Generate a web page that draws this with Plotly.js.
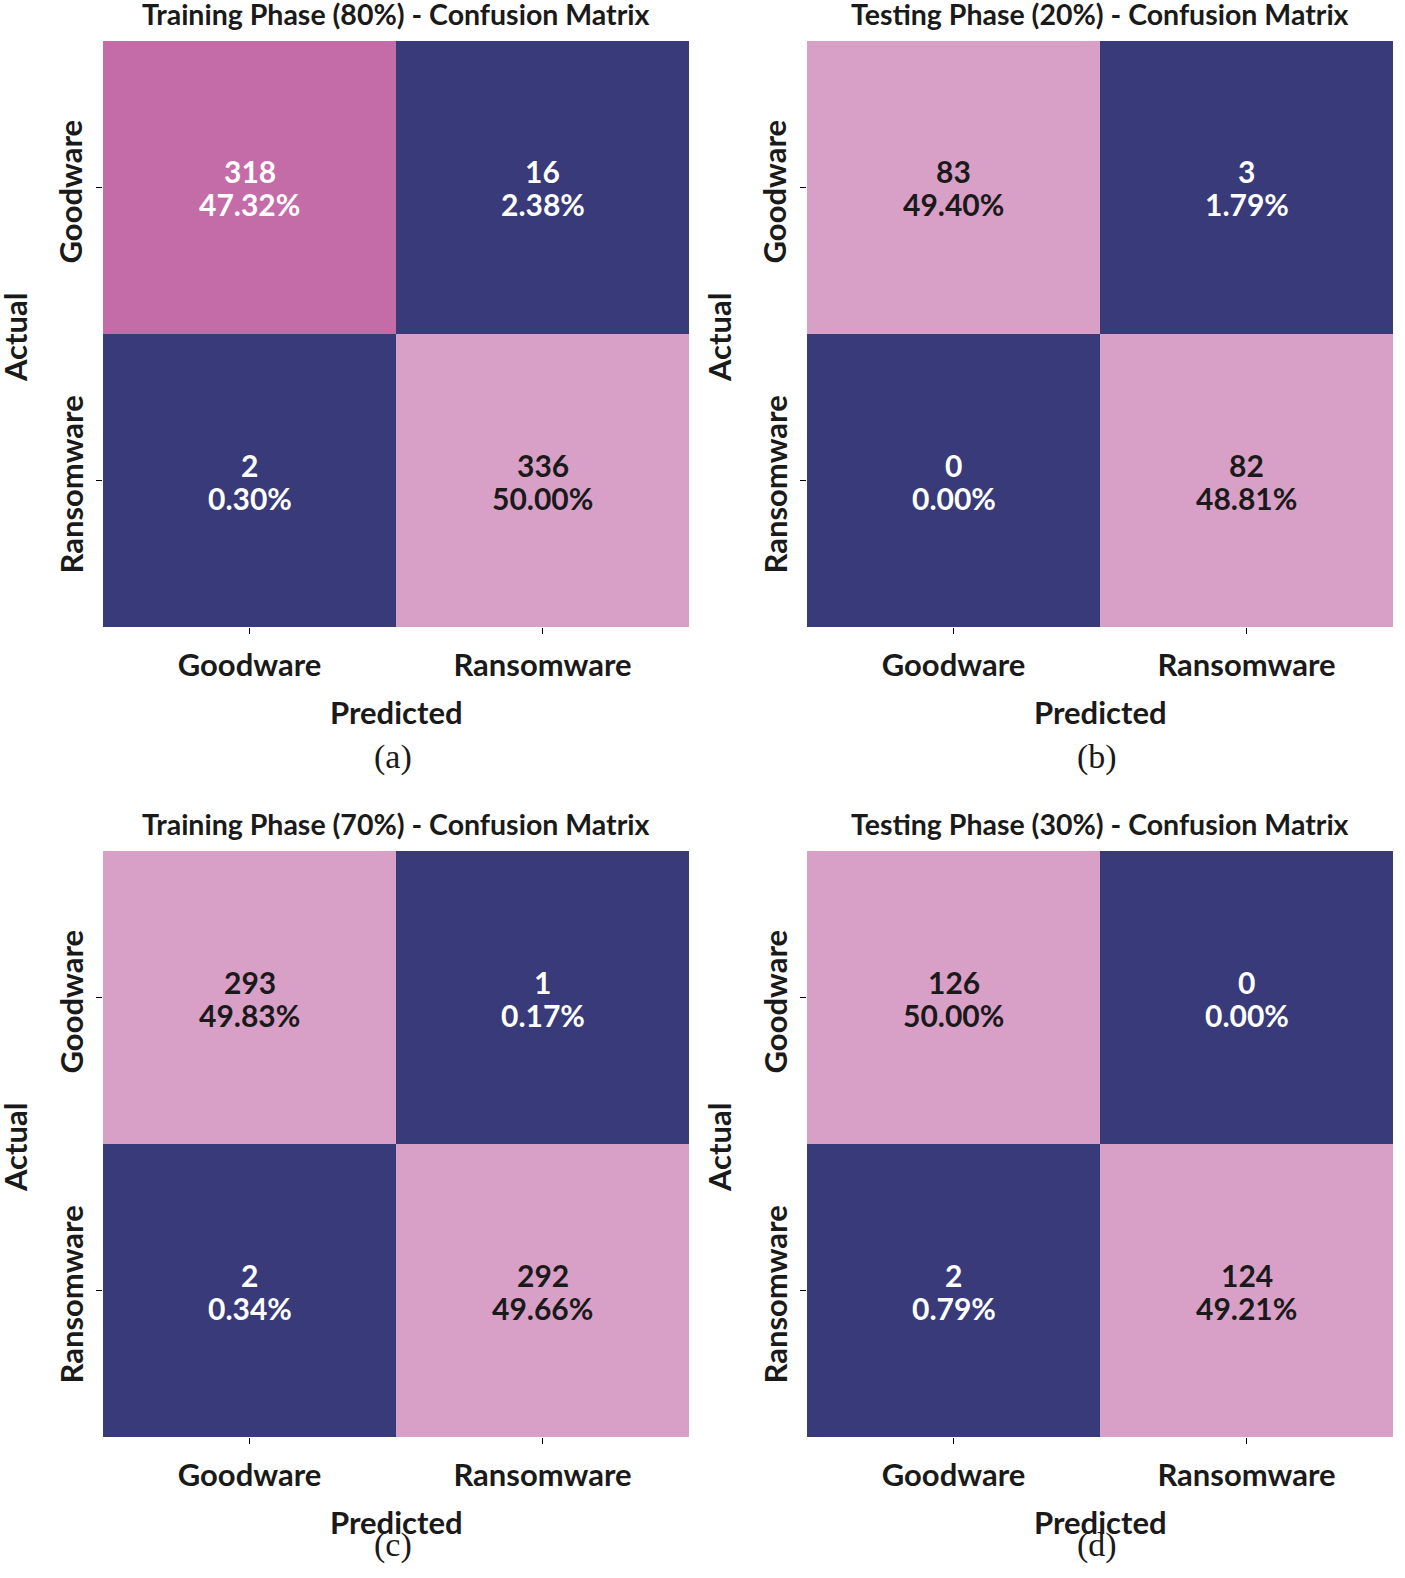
<!DOCTYPE html>
<html>
<head>
<meta charset="utf-8">
<script src="https://cdn.plot.ly/plotly-3.0.1.min.js"></script>
<style>html,body{margin:0;padding:0;background:#fff;overflow:hidden;}#chart{width:1405px;height:1578px;}</style>
</head>
<body>
<div id="chart"></div>
<script>
// ---- data ----
const classes = ["Goodware", "Ransomware"];
const titles = [
  "Training Phase (80%) - Confusion Matrix",
  "Testing Phase (20%) - Confusion Matrix",
  "Training Phase (70%) - Confusion Matrix",
  "Testing Phase (30%) - Confusion Matrix"
];
const captions = ["(a)", "(b)", "(c)", "(d)"];
// rows = actual [Goodware, Ransomware], cols = predicted [Goodware, Ransomware]
const countsA = [[318, 16], [2, 336]];
const countsB = [[83, 3], [0, 82]];
const countsC = [[293, 1], [2, 292]];
const countsD = [[126, 0], [2, 124]];
const pctA = [["47.32%", "2.38%"], ["0.30%", "50.00%"]];
const pctB = [["49.40%", "1.79%"], ["0.00%", "48.81%"]];
const pctC = [["49.83%", "0.17%"], ["0.34%", "49.66%"]];
const pctD = [["50.00%", "0.00%"], ["0.79%", "49.21%"]];

const allCounts = [countsA, countsB, countsC, countsD];
const allPct = [pctA, pctB, pctC, pctD];

// ---- styling ----
const NAVY = "#383a79", MID = "#c46ca8", LIGHT = "#d9a0c7";
const colorscale = [[0, NAVY], [0.5, NAVY], [0.5, MID], [0.97, MID], [0.97, LIGHT], [1, LIGHT]];
const FONT = "Lato, 'Open Sans', sans-serif";
const INK = "#1a1a1a";
const W = 1405, H = 1578;
// panel pixel boxes [left, top, right, bottom]
const boxes = [[103, 41, 689, 627], [807, 41, 1393, 627], [103, 851, 689, 1437], [807, 851, 1393, 1437]];

const data = [];
const annotations = [];
const layout = {
  width: W, height: H,
  margin: {l: 0, r: 0, t: 0, b: 0},
  paper_bgcolor: "#fff", plot_bgcolor: "#fff",
  showlegend: false,
  font: {family: FONT, color: INK},
  annotations: annotations
};

boxes.forEach((b, i) => {
  const n = i + 1;
  const xa = "xaxis" + (n === 1 ? "" : n), ya = "yaxis" + (n === 1 ? "" : n);
  const xr = "x" + (n === 1 ? "" : n), yr = "y" + (n === 1 ? "" : n);
  const z = allCounts[i];
  const flat = z.flat();
  data.push({
    type: "heatmap", z: z, x: classes, y: classes,
    xaxis: xr, yaxis: yr,
    colorscale: colorscale, zmin: Math.min(...flat), zmax: Math.max(...flat),
    showscale: false, hoverinfo: "skip", xgap: 0, ygap: 0
  });
  layout[xa] = {
    domain: [b[0] / W, b[2] / W], anchor: yr,
    type: "category", showgrid: false, zeroline: false, showline: false,
    ticks: "outside", ticklen: 6, tickwidth: 1.5, tickcolor: "#000",
    ticklabelstandoff: 5,
    tickfont: {family: FONT, size: 31, color: INK, weight: "bold"},
    fixedrange: true
  };
  layout[ya] = {
    domain: [1 - b[3] / H, 1 - b[1] / H], anchor: xr,
    type: "category", autorange: "reversed", showgrid: false, zeroline: false, showline: false,
    ticks: "outside", ticklen: 6, tickwidth: 1.5, tickcolor: "#000",
    showticklabels: false,
    fixedrange: true
  };
  // y tick labels (rotated)
  classes.forEach(cl => {
    annotations.push({xref: "paper", yref: yr, x: (b[0] - 33) / W, y: cl, yshift: -4,
      text: cl, showarrow: false, xanchor: "center", yanchor: "middle", textangle: -90,
      font: {family: FONT, size: 31, color: INK, weight: "bold"}});
  });
  const cx = (b[0] + b[2]) / 2;
  // title
  annotations.push({xref: "paper", yref: "paper", x: cx / W, y: 1 - (b[1] - 27) / H,
    text: titles[i], showarrow: false, xanchor: "center", yanchor: "middle",
    font: {family: FONT, size: 28.5, color: INK, weight: "bold"}});
  // x-axis title
  annotations.push({xref: "paper", yref: "paper", x: cx / W, y: 1 - (b[3] + 85) / H,
    text: "Predicted", showarrow: false, xanchor: "center", yanchor: "middle",
    font: {family: FONT, size: 31, color: INK, weight: "bold"}});
  // y-axis title
  annotations.push({xref: "paper", yref: "paper", x: (b[0] - 88) / W, y: 1 - ((b[1] + b[3]) / 2 + 3) / H,
    text: "Actual", showarrow: false, xanchor: "center", yanchor: "middle", textangle: -90,
    font: {family: FONT, size: 31, color: INK, weight: "bold"}});
  // caption
  annotations.push({xref: "paper", yref: "paper", x: (cx - 3) / W, y: 1 - (b[3] + 130 - (i >= 2 ? 22 : 0)) / H,
    text: captions[i], showarrow: false, xanchor: "center", yanchor: "middle",
    font: {family: "'Liberation Serif', 'Times New Roman', serif", size: 34, color: INK}});
  // cell texts
  const zmin = Math.min(...flat), zmax = Math.max(...flat);
  for (let r = 0; r < 2; r++) {
    for (let c = 0; c < 2; c++) {
      const t = (z[r][c] - zmin) / (zmax - zmin);
      const col = t >= 0.97 ? INK : "#ffffff";
      annotations.push({xref: xr, yref: yr, x: classes[c], y: classes[r],
        text: String(z[r][c]), showarrow: false, yshift: 16, xanchor: "center", yanchor: "middle",
        font: {family: FONT, size: 30, color: col, weight: "bold"}});
      annotations.push({xref: xr, yref: yr, x: classes[c], y: classes[r],
        text: allPct[i][r][c], showarrow: false, yshift: -17, xanchor: "center", yanchor: "middle",
        font: {family: FONT, size: 30, color: col, weight: "bold"}});
    }
  }
});

Plotly.newPlot("chart", data, layout, {displayModeBar: false, staticPlot: true});
</script>
</body>
</html>
